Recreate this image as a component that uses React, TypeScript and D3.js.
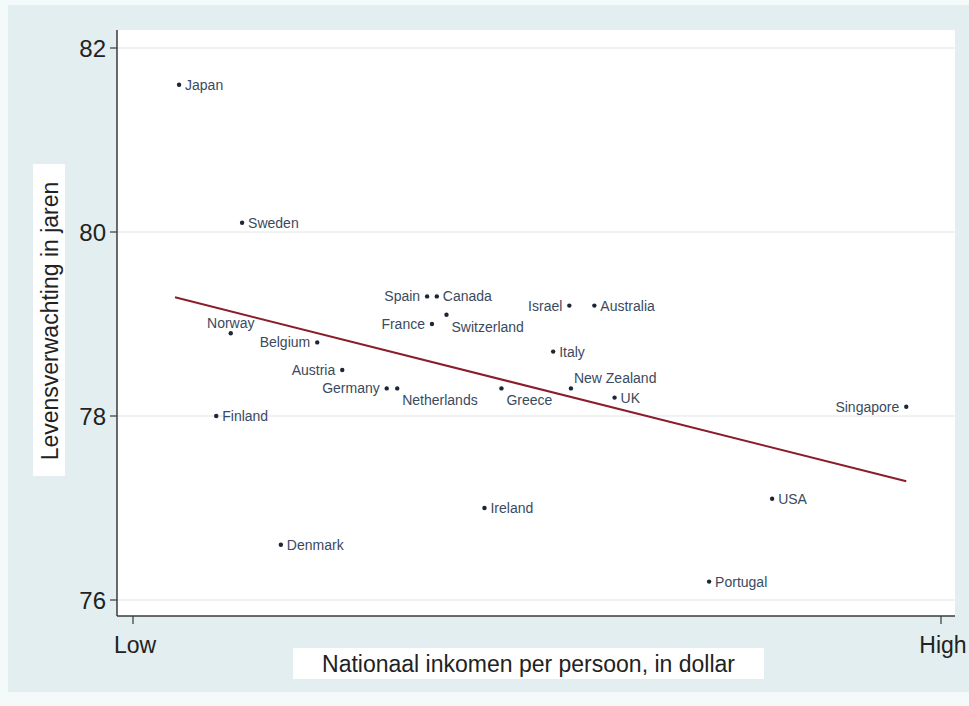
import React from "react";
import * as d3 from "d3";

const countries = ["Japan","Sweden","Norway","Finland","Denmark","Belgium","Austria","Germany","Netherlands","Spain","Canada","France","Switzerland","Ireland","Greece","Israel","Australia","Italy","New Zealand","UK","Portugal","USA","Singapore"];
const income = [5.7,13.5,12.1,10.3,18.3,22.8,25.9,31.4,32.7,36.4,37.6,37.0,38.8,43.5,45.6,54.0,57.1,52.0,54.2,59.6,71.3,79.1,95.7];
const lifeExp = [81.6,80.1,78.9,78.0,76.6,78.8,78.5,78.3,78.3,79.3,79.3,79.0,79.1,77.0,78.3,79.2,79.2,78.7,78.3,78.2,76.2,77.1,78.1];
// clock position of each marker label (Stata style)
const labelPos = [3,3,12,3,3,9,9,9,4,9,3,9,4,3,4,9,3,3,2,3,3,3,9];

const fitX = [5.2, 95.7];
const fitY = [79.29, 77.29];

const yTicks = [76, 78, 80, 82];
const xTickValues = [0, 100];
const xTickLabels = ["Low", "High"];

const yTitle = "Levensverwachting in jaren";
const xTitle = "Nationaal inkomen per persoon, in dollar";

const W = 969, H = 706;
const font = "Arial, 'Liberation Sans', Helvetica, sans-serif";

export default function App() {
  const x = d3.scaleLinear().domain([0, 100]).range([133, 941]);
  const y = d3.scaleLinear().domain([76, 82]).range([600, 48]);
  const plotL = 117, plotR = 955, plotT = 30, plotB = 616;
  const line = d3.line<number>().x((d, i) => x(fitX[i])).y((d, i) => y(fitY[i]));

  const labelOffset = (p: number) => {
    switch (p) {
      case 9: return { dx: -7, dy: 0, anchor: "end" };
      case 12: return { dx: 0, dy: -10, anchor: "middle" };
      case 4: return { dx: 5, dy: 12, anchor: "start" };
      case 2: return { dx: 3, dy: -10, anchor: "start" };
      default: return { dx: 6, dy: 0, anchor: "start" };
    }
  };

  return (
    <svg width={W} height={H} style={{ position: "absolute", left: 0, top: 0, display: "block" }} fontFamily={font}>
      <rect x={0} y={0} width={W} height={H} fill="#f4f9fa" />
      <rect x={8} y={5} width={W - 8} height={687} fill="#e2eef0" />
      <rect x={plotL} y={plotT} width={plotR - plotL} height={plotB - plotT} fill="#ffffff" />
      {yTicks.map((t) => (
        <line key={"g" + t} x1={plotL} x2={plotR} y1={y(t)} y2={y(t)} stroke="#e4e6e8" strokeWidth={1.2} />
      ))}
      <path d={line(fitX) || ""} fill="none" stroke="#8b1c2c" strokeWidth={2} />
      {countries.map((c, i) => {
        const o = labelOffset(labelPos[i]);
        const cx = x(income[i]), cy = y(lifeExp[i]);
        return (
          <g key={c}>
            <circle cx={cx} cy={cy} r={2.2} fill="#1c2636" />
            <text x={cx + o.dx} y={cy + o.dy} textAnchor={o.anchor} dominantBaseline="central" fontSize={14} fill="#3a4a5e">{c}</text>
          </g>
        );
      })}
      {/* axes */}
      <line x1={plotL} x2={plotL} y1={plotT} y2={plotB} stroke="#3a3a3a" strokeWidth={1.5} />
      <line x1={plotL} x2={plotR} y1={plotB} y2={plotB} stroke="#3a3a3a" strokeWidth={1.5} />
      {yTicks.map((t) => (
        <g key={"t" + t}>
          <line x1={plotL - 7} x2={plotL} y1={y(t)} y2={y(t)} stroke="#3a3a3a" strokeWidth={1.2} />
          <text x={plotL - 11} y={y(t)} textAnchor="end" dominantBaseline="central" fontSize={24} fill="#222">{t}</text>
        </g>
      ))}
      {xTickValues.map((t, i) => (
        <g key={"x" + t}>
          <line x1={x(t)} x2={x(t)} y1={plotB} y2={plotB + 8} stroke="#3a3a3a" strokeWidth={1.2} />
          <text x={x(t) + 2} y={653} textAnchor="middle" fontSize={23} fill="#222">{xTickLabels[i]}</text>
        </g>
      ))}
      {/* axis titles */}
      <rect x={293} y={648} width={471} height={31} fill="#ffffff" />
      <text x={528.5} y={672} textAnchor="middle" fontSize={23} fill="#222">{xTitle}</text>
      <rect x={33} y={164} width={32} height={312} fill="#ffffff" />
      <text transform={`translate(58,${321}) rotate(-90)`} textAnchor="middle" fontSize={23} fill="#222">{yTitle}</text>
    </svg>
  );
}
